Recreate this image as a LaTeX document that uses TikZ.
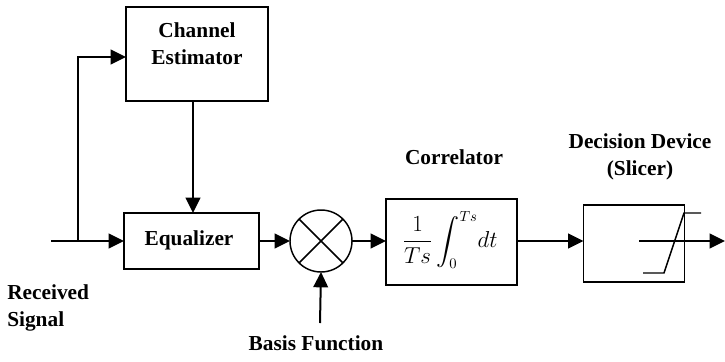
\documentclass[tikz,border=0pt]{standalone}
\usepackage{amsmath}
\usepackage{fontspec}
\setmainfont{Liberation Serif}
\usetikzlibrary{arrows.meta,calc}
\begin{document}
\begin{tikzpicture}[x=0.75pt,y=-0.75pt,
  lbl/.style={font=\fontsize{16}{20}\selectfont\bfseries, align=center, inner sep=0pt},
  blk/.style={draw, line width=1.1pt, inner sep=0pt, outer sep=0pt},
  conn/.style={line width=1.5pt, -{Triangle[length=11.5pt,width=11pt]}}]
\useasboundingbox (0,0) rectangle (725,361);
% blocks
\node[blk, minimum width=106.5pt, minimum height=70.5pt] (ch) at (197,54) {};
\node[lbl] (chl) at (197,44) {Channel\\Estimator};
\node[blk, minimum width=101.25pt, minimum height=42pt] (eq) at (191.5,241) {};
\node[lbl] (eql) at (189,240) {Equalizer};
\node[blk, circle, minimum size=46.5pt] (mul) at (321,241) {};
\draw[line width=1.1pt] (mul.45) -- (mul.225) (mul.135) -- (mul.315);
\node[blk, minimum width=98.25pt, minimum height=64.5pt] (cor) at (451.5,242) {};
\node[inner sep=0pt] (corf) at (450,240) {\fontsize{16}{20}\selectfont$\displaystyle\frac{1}{Ts}\int_0^{Ts}\! dt$};
\node[blk, minimum width=75.75pt, minimum height=57.75pt] (dec) at (634,243.5) {};
% labels
\node[lbl] (corl) at (454,157) {Correlator};
\node[lbl] (decl) at (640,157) {Decision Device\\(Slicer)};
\node[lbl, anchor=west, align=left] (rx) at (7,308) {Received\\Signal};
\node[lbl] (bf) at (316,343) {Basis Function};
% coordinates
\coordinate (in) at (51,241);
\coordinate (br) at (78,241);
\coordinate (bfs) at (320,323);
\coordinate (sl) at (639,241);
\coordinate (out) at (725,241);
% connectors
\draw[conn] (in) -- (eq.west);
\draw[conn] (br) |- ($(ch.west)+(0,3)$);
\draw[conn] (ch.south -| 193,0) -- (eq.north -| 193,0);
\draw[conn] (eq.east) -- (mul.west);
\draw[conn] (bfs) -- (mul.south);
\draw[conn] (mul.east) -- (cor.west |- mul.east);
\draw[conn] (cor.east |- mul.east) -- (dec.west |- mul.east);
% slicer characteristic
\draw[line width=1.1pt] (643,273) -- (664,273) -- (684,213) -- (701,213);
\draw[line width=1.1pt] (sl) -- (dec.east |- sl);
\draw[conn] (dec.east |- sl) -- (out);
\end{tikzpicture}
\end{document}
